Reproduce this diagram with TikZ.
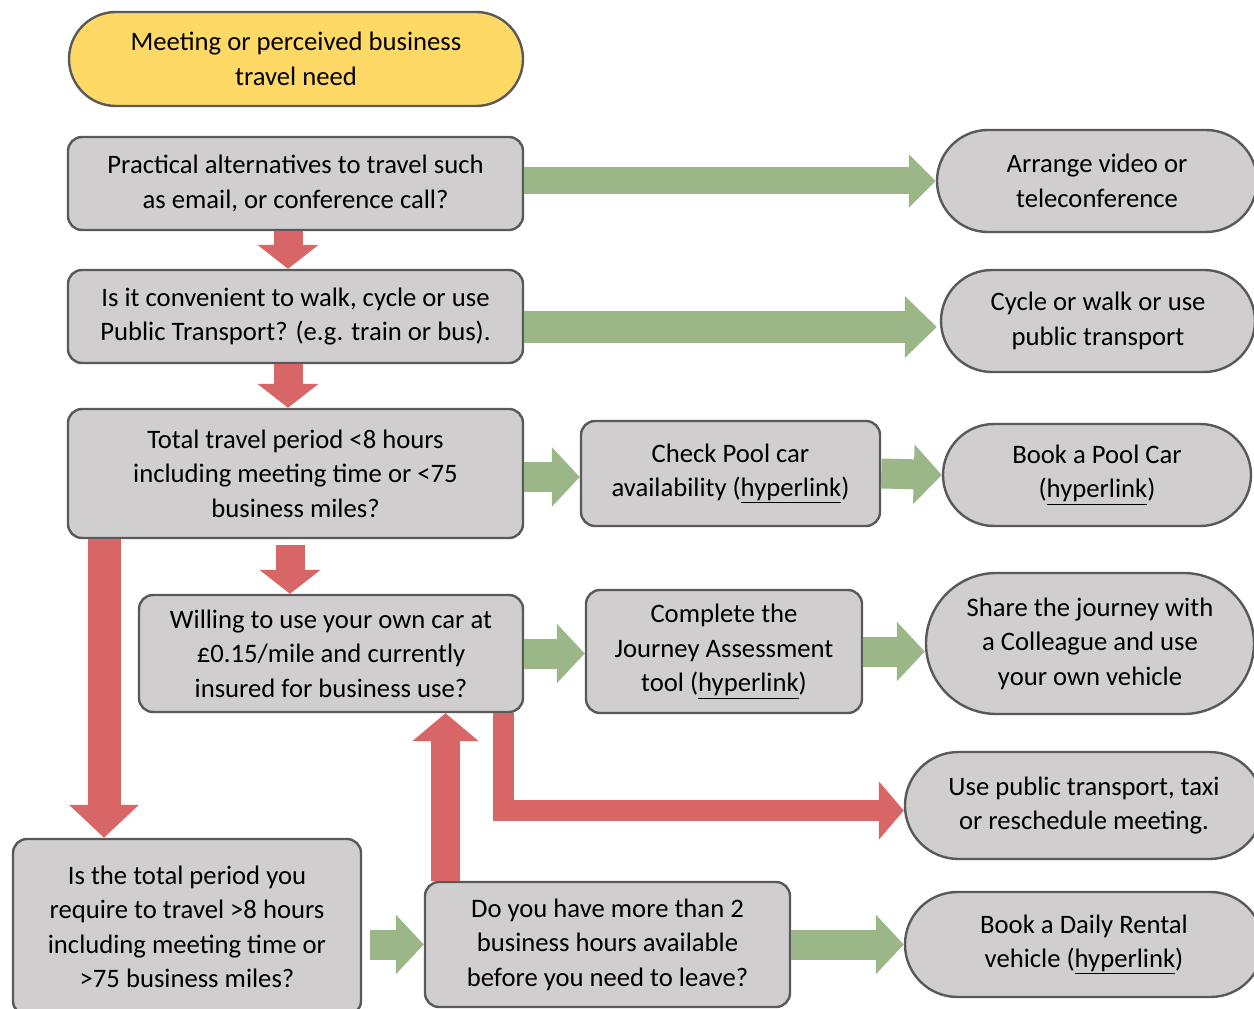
\documentclass[tikz,border=0pt]{standalone}
\usepackage{fontspec}
\setmainfont{Carlito}
\usetikzlibrary{arrows.meta,calc,shapes.misc}

\definecolor{boxgray}{RGB}{208,206,206}
\definecolor{edgegray}{RGB}{89,89,89}
\definecolor{startyellow}{RGB}{255,217,102}
\definecolor{noRed}{RGB}{217,102,102}
\definecolor{yesGreen}{RGB}{155,183,135}

\begin{document}
\begin{tikzpicture}[x=0.75pt,y=-0.75pt,
    qbox/.style={draw=edgegray,line width=1.8pt,fill=boxgray,rounded corners=10.5pt,
      inner sep=0pt,align=center,font=\fontsize{20}{25.8}\selectfont},
    endbox/.style={qbox,rounded corners=0pt,rounded rectangle},
    no/.style={draw=noRed,line width=21.75pt,-{Triangle[length=18pt,width=45pt]}},
    yes/.style={draw=yesGreen,line width=22.5pt,-{Triangle[length=21pt,width=43.5pt]}}]
  \useasboundingbox (0,0) rectangle (1254,1009);
  \clip (0,0) rectangle (1254,1009);
  % questions down the left
  \path
    (296,59) node[endbox,fill=startyellow,minimum width=340.5pt,minimum height=70.5pt] (start)
      {Meeting or perceived business\\travel need}
    (295.5,183.5) node[qbox,minimum width=341.25pt,minimum height=69.75pt] (q1)
      {Practical alternatives to travel such\\as email, or conference call?}
    (295.5,316.5) node[qbox,minimum width=341.25pt,minimum height=69.75pt] (q2)
      {Is it convenient to walk, cycle or use\\Public Transport? (e.g. train or bus).}
    (295.5,473.5) node[qbox,minimum width=341.25pt,minimum height=96.75pt] (q3)
      {Total travel period <8 hours\\including meeting time or <75\\business miles?}
    (331,653.5) node[qbox,minimum width=288pt,minimum height=87.75pt] (q4)
      {Willing to use your own car at\\£0.15/mile and currently\\insured for business use?}
    (187,927) node[qbox,minimum width=261pt,minimum height=132pt] (q5)
      {Is the total period you\\require to travel >8 hours\\including meeting time or\\>75 business miles?}
    (607.5,944.5) node[qbox,minimum width=273.75pt,minimum height=93.75pt] (q6)
      {Do you have more than 2\\business hours available\\before you need to leave?}
    (730.5,473.5) node[qbox,minimum width=224.25pt,minimum height=78.75pt] (pool)
      {Check Pool car\\availability (\underline{hyperlink})}
    (724,651.5) node[qbox,minimum width=207pt,minimum height=92.25pt] (jat)
      {Complete the\\Journey Assessment\\tool (\underline{hyperlink})};
  % outcomes on the right
  \path
    (1097,181) node[endbox,minimum width=240pt,minimum height=76.5pt] (video)
      {Arrange video or\\teleconference}
    (1098,321) node[endbox,minimum width=235.5pt,minimum height=76.5pt] (cycle)
      {Cycle or walk or use\\public transport}
    (1097,475) node[endbox,minimum width=231pt,minimum height=76.5pt] (book)
      {Book a Pool Car\\(\underline{hyperlink})}
    (1090,643.5) node[endbox,minimum width=246pt,minimum height=105.75pt] (share)
      {Share the journey with\\a Colleague and use\\your own vehicle}
    (1084,805.5) node[endbox,minimum width=268.5pt,minimum height=80.25pt] (usepub)
      {Use public transport, taxi\\or reschedule meeting.}
    (1084,944.5) node[endbox,minimum width=268.5pt,minimum height=78.75pt] (rental)
      {Book a Daily Rental\\vehicle (\underline{hyperlink})};
  % no
  \draw[no] ($(q1.south)+(-7.5,0)$) -- ($(q2.north)+(-7.5,0)$);
  \draw[no] ($(q2.south)+(-7.5,0)$) -- ($(q3.north)+(-7.5,0)$);
  \draw[no] ($(q3.south)+(-5.5,6)$) -- ($(q4.north)+(-41,0)$);
  \draw[no,line width=24.75pt,-{Triangle[length=24.75pt,width=51pt]}]
    ($(q3.south)+(-191.5,0)$) -- ($(q5.north)+(-83,0)$);
  \draw[no,-{Triangle[length=21pt,width=48.75pt]}]
    ($(q6.north)+(-162,0)$) -- ($(q4.south)+(114.5,0)$);
  \draw[no,line width=15.75pt,-{Triangle[length=18.75pt,width=42.75pt]}]
    ($(q4.south)+(172.5,0)$) |- ($(usepub.west)+(0,5)$);
  % yes
  \draw[yes,line width=20.25pt,-{Triangle[length=20.25pt,width=39pt]}]
    (video.west -| q1.east) -- (video.west);
  \draw[yes,line width=24pt,-{Triangle[length=24pt,width=45pt]}]
    ($(q2.east)+(0,10.5)$) -- ($(cycle.west)+(-3,6)$);
  \draw[yes] ($(q3.east)+(0,3.5)$) -- ($(pool.west)+(0,3.5)$);
  \draw[yes] (pool.east) -- (book.west);
  \draw[yes] (q4.east) -- (q4.east -| jat.west);
  \draw[yes] (jat.east) -- (jat.east -| share.west);
  \draw[yes] ($(q6.west -| q5.east)+(8,0)$) -- (q6.west);
  \draw[yes] (q6.east) -- (rental.west);
\end{tikzpicture}
\end{document}
